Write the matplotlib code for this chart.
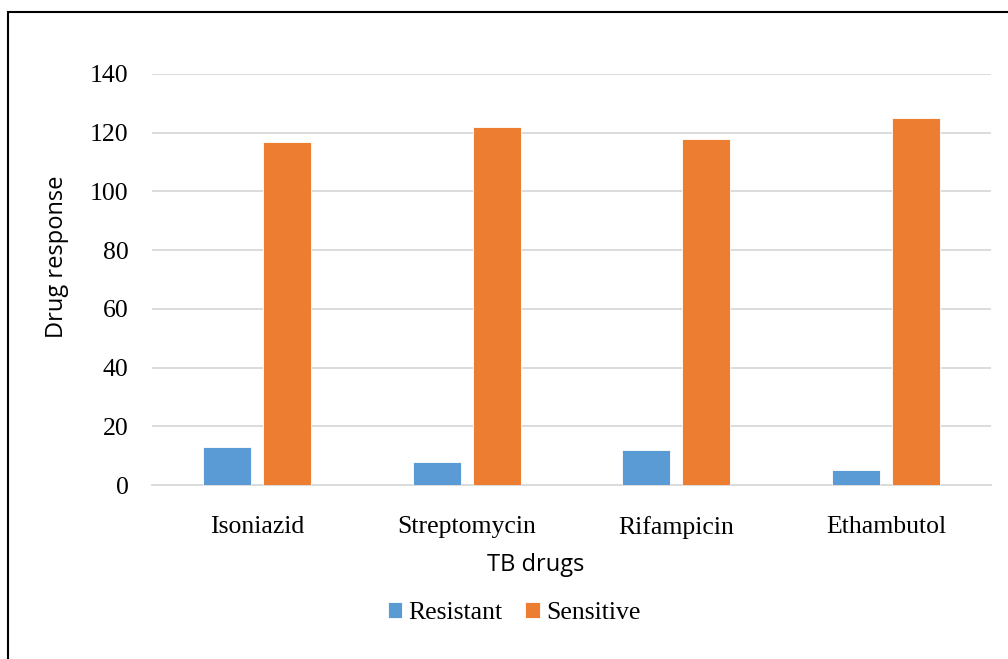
import numpy as np
import matplotlib.pyplot as plt
from matplotlib.patches import Rectangle

# DATA
drugs = ['Isoniazid', 'Streptomycin', 'Rifampicin', 'Ethambutol']
resistant = [13, 8, 12, 5]
sensitive = [117, 122, 118, 125]
yticks = [0, 20, 40, 60, 80, 100, 120, 140]

W, H = 1008, 659
fig = plt.figure(figsize=(W / 100, H / 100), dpi=100)
ax = fig.add_axes([152 / W, 1 - 485 / H, (991 - 152) / W, (485 - 74) / H])

x = np.arange(len(drugs))
bw = 0.229
off = 0.143
ax.bar(x - off, resistant, bw, color='#5b9bd5', edgecolor='white', linewidth=0.6,
       label='Resistant', zorder=3)
ax.bar(x + off, sensitive, bw, color='#ed7d31', edgecolor='white', linewidth=0.6,
       label='Sensitive', zorder=3)

ax.set_xlim(-0.5, len(drugs) - 0.5)
ax.set_ylim(0, 140)
ax.set_yticks(yticks)
ax.yaxis.grid(True, color='#d9d9d9', linewidth=1.3, zorder=0)
ax.set_axisbelow(True)
for s in ['top', 'right', 'left']:
    ax.spines[s].set_visible(False)
ax.spines['bottom'].set_color('#d9d9d9')
ax.spines['bottom'].set_linewidth(1.3)
ax.tick_params(length=0)
ax.set_xticks(x)
ax.set_xticklabels(drugs, family='Liberation Serif', fontsize=18.5)
ax.set_yticklabels([str(v) for v in yticks], family='Liberation Serif', fontsize=18.5)
ax.tick_params(axis='y', pad=17)
ax.tick_params(axis='x', pad=22)

lab_font = ['Open Sans', 'DejaVu Sans']
fig.text(57 / W, 1 - 257 / H, 'Drug response', family=lab_font, fontsize=17,
         rotation=90, ha='center', va='center')
fig.text(536 / W, 1 - 565 / H, 'TB drugs', family=lab_font, fontsize=17,
         ha='center', va='center')

fig.legend(loc='center', bbox_to_anchor=(514 / W, 1 - 613 / H), ncol=2, frameon=False,
           prop={'family': 'Liberation Serif', 'size': 18.5},
           handlelength=0.55, handleheight=0.55, handletextpad=0.25, columnspacing=0.9)

# chart border
fig.add_artist(Rectangle((8 / W, -0.05), 1.1, 1 - 12 / H + 0.05, transform=fig.transFigure,
                         fill=False, edgecolor='black', linewidth=1.5))

fig.savefig('out.png', dpi=100, facecolor='white')
